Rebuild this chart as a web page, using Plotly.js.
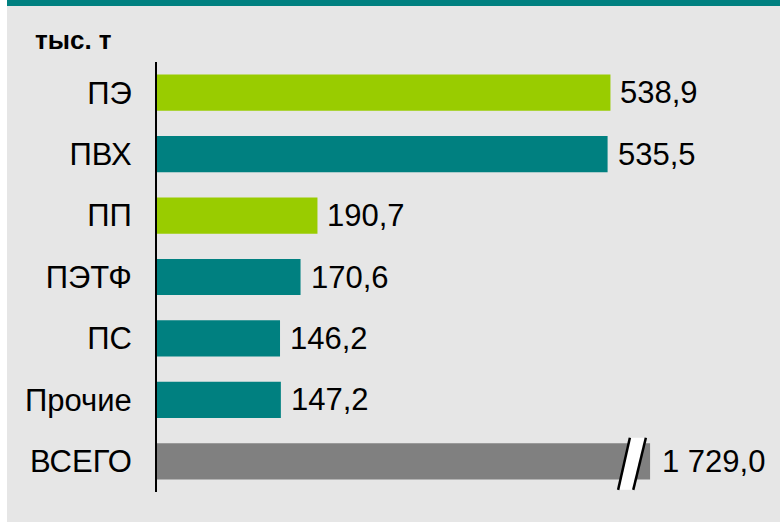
<!DOCTYPE html>
<html>
<head>
<meta charset="utf-8">
<script src="https://cdn.plot.ly/plotly-3.0.1.min.js"></script>
<style>html,body{margin:0;padding:0;background:#fff;}#chart{width:780px;height:522px;}</style>
</head>
<body>
<div id="chart"></div>
<script>
// Data
var categories = ["ПЭ", "ПВХ", "ПП", "ПЭТФ", "ПС", "Прочие", "ВСЕГО"];
var values = [538.9, 535.5, 190.7, 170.6, 146.2, 147.2, 1729.0];
// The total bar is drawn with a broken (shortened) length in the original
var totalDisplayLength = 586;
var barColors = ["#99CC00", "#008080", "#99CC00", "#008080", "#008080", "#008080", "#808080"];
var unitLabel = "тыс. т";

function fmt(v) {
  var s = v.toFixed(1).split(".");
  var intPart = s[0].replace(/\B(?=(\d{3})+(?!\d))/g, " ");
  return intPart + "," + s[1];
}

var lengths = values.map(function (v, i) {
  return categories[i] === "ВСЕГО" ? totalDisplayLength : v;
});

var FONT = "Liberation Sans, Arial, sans-serif";

var trace = {
  type: "bar",
  orientation: "h",
  y: categories,
  x: lengths,
  marker: { color: barColors, line: { width: 0 } },
  width: 0.59,
  hoverinfo: "skip"
};

var annotations = values.map(function (v, i) {
  return {
    x: lengths[i], y: categories[i], xref: "x", yref: "y",
    text: fmt(v), showarrow: false, xanchor: "left", yanchor: "middle",
    xshift: categories[i] === "ВСЕГО" ? 10 : 8,
    font: { family: FONT, size: 31, color: "#000" }
  };
});

// background helpers (paper coords relative to plot area)
var L = 157, T = 62, W = 589, H = 430;
function px(x) { return (x - L) / W; }
function py(y) { return (T + H - y) / H; }

annotations.push({
  x: px(33), y: py(40), xref: "paper", yref: "paper",
  text: "<b>" + unitLabel + "</b>", showarrow: false,
  xanchor: "left", yanchor: "middle",
  font: { family: FONT, size: 26, color: "#000" }
});

var totalIdx = categories.indexOf("ВСЕГО");
var d = totalDisplayLength;
var yb = totalIdx + 0.465, yt = totalIdx - 0.383;
var shapes = [
  { type: "rect", xref: "paper", yref: "paper", x0: px(7), x1: px(780), y0: py(522), y1: py(6),
    fillcolor: "#E6E6E6", line: { width: 0 }, layer: "below" },
  { type: "rect", xref: "paper", yref: "paper", x0: px(7), x1: px(780), y0: py(6), y1: py(0),
    fillcolor: "#008080", line: { width: 0 }, layer: "below" },
  { type: "path", xref: "x", yref: "y",
    path: "M " + (d - 38) + " " + yb + " L " + (d - 24) + " " + yt + " L " + (d - 5) + " " + yt + " L " + (d - 20) + " " + yb + " Z",
    fillcolor: "#FFFFFF", line: { width: 0 }, layer: "above" },
  { type: "line", xref: "x", yref: "y", x0: d - 38, y0: yb, x1: d - 24, y1: yt,
    line: { color: "#000", width: 2.5 }, layer: "above" },
  { type: "line", xref: "x", yref: "y", x0: d - 20, y0: yb, x1: d - 5, y1: yt,
    line: { color: "#000", width: 2.5 }, layer: "above" }
];

var layout = {
  width: 780, height: 522,
  margin: { l: L, r: 780 - L - W, t: T, b: 522 - T - H, pad: 0 },
  paper_bgcolor: "#FFFFFF",
  plot_bgcolor: "rgba(0,0,0,0)",
  showlegend: false,
  xaxis: { range: [0, 700], visible: false, fixedrange: true },
  yaxis: {
    type: "category", categoryorder: "array", categoryarray: categories,
    autorange: "reversed",
    showline: true, linecolor: "#000", linewidth: 2,
    showgrid: false, zeroline: false, ticks: "",
    ticklabelstandoff: 17,
    tickfont: { family: FONT, size: 31, color: "#000" },
    fixedrange: true
  },
  annotations: annotations,
  shapes: shapes
};

Plotly.newPlot("chart", [trace], layout, { displayModeBar: false, staticPlot: true });
</script>
</body>
</html>
